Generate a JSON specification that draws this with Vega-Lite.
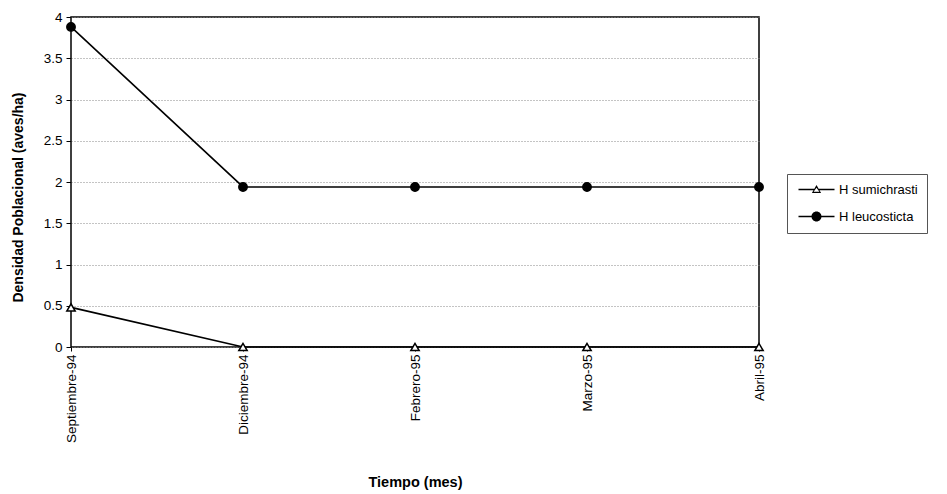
{
  "$schema": "https://vega.github.io/schema/vega-lite/v6.json",
  "autosize": {"type": "none"},
  "padding": {"left": 71, "top": 17, "right": 188, "bottom": 147},
  "width": 688,
  "height": 330,
  "background": "white",
  "config": {
    "font": "Liberation Sans",
    "view": {"stroke": "black", "strokeWidth": 1.5},
    "axis": {"labelFontSize": 13.5, "labelColor": "black", "titleColor": "black", "titleFontWeight": "bold", "domain": false, "tickColor": "black"}
  },
  "data": {
    "values": [
      {"mes": "Septiembre-94", "serie": "H sumichrasti", "densidad": 0.48},
      {"mes": "Diciembre-94", "serie": "H sumichrasti", "densidad": 0},
      {"mes": "Febrero-95", "serie": "H sumichrasti", "densidad": 0},
      {"mes": "Marzo-95", "serie": "H sumichrasti", "densidad": 0},
      {"mes": "Abril-95", "serie": "H sumichrasti", "densidad": 0},
      {"mes": "Septiembre-94", "serie": "H leucosticta", "densidad": 3.88},
      {"mes": "Diciembre-94", "serie": "H leucosticta", "densidad": 1.94},
      {"mes": "Febrero-95", "serie": "H leucosticta", "densidad": 1.94},
      {"mes": "Marzo-95", "serie": "H leucosticta", "densidad": 1.94},
      {"mes": "Abril-95", "serie": "H leucosticta", "densidad": 1.94}
    ]
  },
  "encoding": {
    "x": {
      "field": "mes", "type": "ordinal",
      "sort": ["Septiembre-94", "Diciembre-94", "Febrero-95", "Marzo-95", "Abril-95"],
      "scale": {"type": "point", "padding": 0},
      "axis": {"title": "Tiempo (mes)", "titleFontSize": 14.5, "labelAngle": -90, "labelAlign": "right", "labelBaseline": "middle", "tickSize": 4, "labelPadding": 3, "titlePadding": 33, "grid": false}
    },
    "y": {
      "field": "densidad", "type": "quantitative",
      "scale": {"domain": [0, 4], "nice": false},
      "axis": {"title": "Densidad Poblacional (aves/ha)", "titleFontSize": 14, "titleY": 180, "format": "~g", "values": [0, 0.5, 1, 1.5, 2, 2.5, 3, 3.5, 4], "tickSize": 5, "labelPadding": 4, "titlePadding": 18, "grid": true, "gridColor": "#888", "gridDash": [1, 2], "gridWidth": 1, "labelFlush": false}
    }
  },
  "layer": [
    {
      "mark": {"type": "line", "color": "black", "strokeWidth": 1.6},
      "encoding": {"detail": {"field": "serie"}}
    },
    {
      "mark": {"type": "point", "filled": false, "stroke": "black", "strokeWidth": 1.5, "size": 70, "opacity": 1},
      "encoding": {
        "shape": {"field": "serie", "type": "nominal", "scale": {"domain": ["H sumichrasti", "H leucosticta"], "range": ["triangle-up", "circle"]}, "legend": null},
        "fill": {"field": "serie", "type": "nominal", "scale": {"domain": ["H sumichrasti", "H leucosticta"], "range": ["white", "black"]}, "legend": null}
      }
    },
    {
      "transform": [{"filter": "datum.densidad < 0"}],
      "mark": {"type": "point", "filled": true, "fill": "black", "strokeWidth": 0, "size": 64, "opacity": 1},
      "encoding": {
        "shape": {"field": "serie", "type": "nominal", "scale": {"domain": ["H sumichrasti", "H leucosticta"], "range": ["M-4.5,-0.2H-0.6V0.2H-4.5Z M0.6,-0.2H4.5V0.2H0.6Z M0,-1.1L1.15,0.9L-1.15,0.9Z M0,-0.45L-0.72,0.55L0.72,0.55Z", "M-4.5,-0.2H4.5V0.2H-4.5Z M1.25,0A1.25,1.25 0 1 1 -1.25,0A1.25,1.25 0 1 1 1.25,0Z"]},
          "legend": {"title": null, "orient": "none", "legendX": 716, "legendY": 157, "strokeColor": "#555", "padding": 9, "labelFontSize": 13, "labelColor": "black", "symbolOpacity": 1, "symbolFillColor": "black", "symbolStrokeColor": "transparent", "symbolStrokeWidth": 0, "symbolSize": 64, "symbolOffset": 14, "labelOffset": 16, "rowPadding": 13}}
      }
    }
  ],
  "resolve": {"scale": {"shape": "independent", "fill": "independent"}}
}
